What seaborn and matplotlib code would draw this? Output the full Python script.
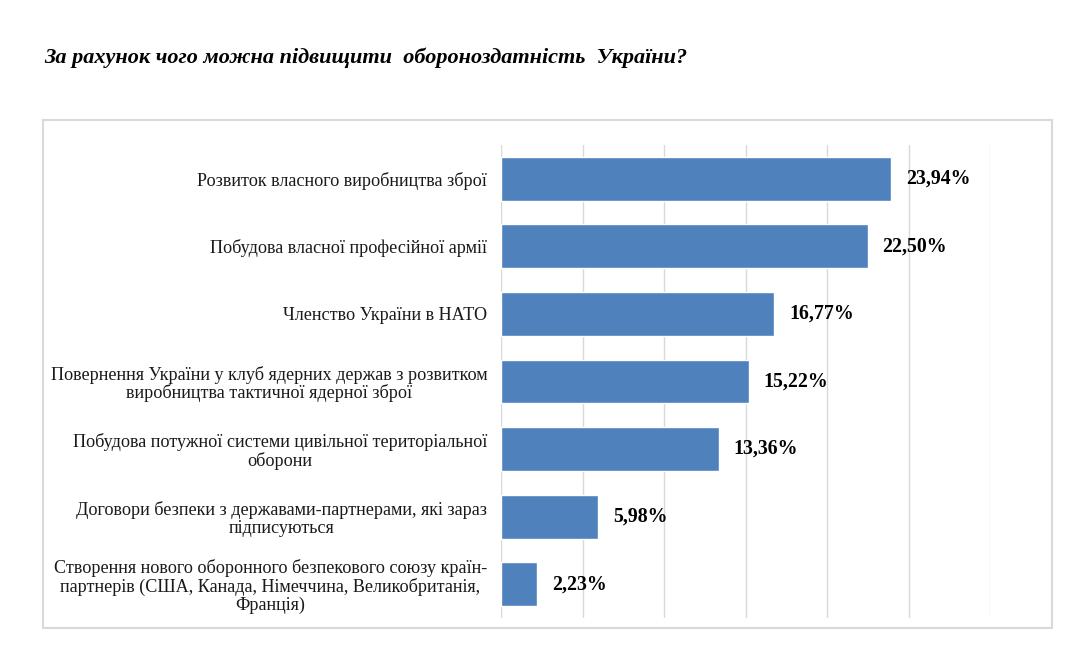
import matplotlib
matplotlib.use("Agg")
import matplotlib.pyplot as plt
from matplotlib.patches import Rectangle
import seaborn as sns
import pandas as pd

categories = [
    "Розвиток власного виробництва зброї",
    "Побудова власної професійної армії",
    "Членство України в НАТО",
    "Повернення України у клуб ядерних держав з розвитком\nвиробництва тактичної ядерної зброї",
    "Побудова потужної системи цивільної територіальної\nоборони",
    "Договори безпеки з державами-партнерами, які зараз\nпідписуються",
    "Створення нового оборонного безпекового союзу країн-\nпартнерів (США, Канада, Німеччина, Великобританія,\nФранція)",
]
values = [23.94, 22.50, 16.77, 15.22, 13.36, 5.98, 2.23]
value_labels = ["23,94%", "22,50%", "16,77%", "15,22%", "13,36%", "5,98%", "2,23%"]
title = "За рахунок чого можна підвищити  обороноздатність  України?"

sns.set_theme(style="white")
plt.rcParams["font.family"] = ["Liberation Serif", "DejaVu Serif"]

df = pd.DataFrame({"cat": categories, "val": values})

fig = plt.figure(figsize=(10.74, 6.67), dpi=100)
fig.patch.set_facecolor("white")

# chart area border
fig.add_artist(Rectangle((0.040, 0.0585), 0.9395, 0.7615, transform=fig.transFigure,
                         fill=False, edgecolor="#d9d9d9", linewidth=1.5))

ax = fig.add_axes([0.4665, 0.0735, 0.4553, 0.709])
sns.barplot(data=df, y="cat", x="val", orient="h", color="#4f81bd",
            saturation=1, width=0.65, ax=ax)
ax.set_xlim(0, 30)
ax.set_xticks(range(0, 31, 5))
ax.set_xticklabels([])
ax.tick_params(axis="x", length=0)
ax.tick_params(axis="y", length=0, pad=10)
ax.grid(axis="x", color="#d9d9d9", linewidth=1)
ax.set_axisbelow(True)
for s in ax.spines.values():
    s.set_visible(False)
ax.set_xlabel("")
ax.set_ylabel("")
for lbl in ax.get_yticklabels():
    lbl.set_fontsize(13.1)
    lbl.set_multialignment("center")
    lbl.set_linespacing(1.05)
    lbl.set_color("#1a1a1a")

ax.bar_label(ax.containers[0], labels=value_labels, padding=10.5,
             fontsize=14.3, fontweight="bold", color="black")

fig.text(0.041, 0.913, title, fontsize=16, fontstyle="italic", fontweight="bold",
         ha="left", va="center", color="black")

fig.savefig("out.png", dpi=100)
